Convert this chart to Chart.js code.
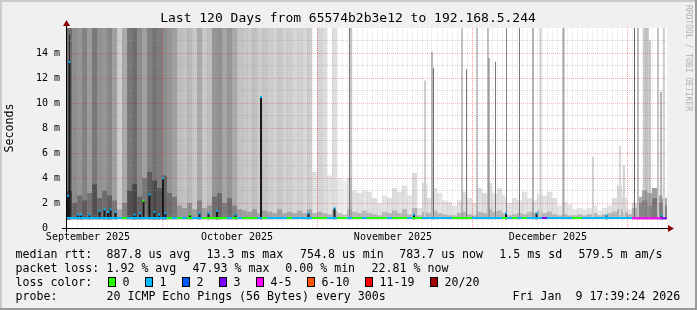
<!DOCTYPE html>
<html>
<head>
<meta charset="utf-8">
<script src="https://cdn.jsdelivr.net/npm/chart.js@4/dist/chart.umd.min.js"></script>
<style>
  html, body { margin: 0; padding: 0; background: #f0f0f0; }
  canvas { display: block; }
</style>
</head>
<body>
<canvas id="smoke" width="697" height="310"></canvas>
<script>
// 120 days, one bin per day, values in ms
const monthLabels = ['September 2025', 'October 2025', 'November 2025', 'December 2025'];
const monthTickDays = [4.2, 34, 65.2, 96.2];
const majorGridDays = [19, 50, 81, 112];
const yTickValues = [0, 2, 4, 6, 8, 10, 12, 14];
const yTickLabels = ['0  ', '2 m', '4 m', '6 m', '8 m', '10 m', '12 m', '14 m'];

// outer smoke: grey level and top (ms)
const smokeShade = [
  110,140,150,130,155,120,145,150,135,160,
  205,170,120,110,140,160,130,115,125,140,
  150,160,190,195,185,200,170,200,190,150,
  145,165,150,170,195,198,202,192,205,198,
  205,210,200,210,205,215,210,215,205,225,
  212,220,225,222,235,238,225,226,224,228,
  225,222,226,228,224,222,226,224,228,220,
  226,222,224,226,228,226,224,228,226,222,
  226,228,224,220,222,226,224,228,226,224,
  226,224,228,226,224,226,222,224,228,226,
  228,230,228,230,228,226,230,228,226,224,
  218,222,228,215,175,165,170,160,175,170
];
const smokeTop = [
  16.5,16.5,16.5,16.5,16.5,16.5,16.5,16.5,16.5,16.5,
  16.5,16.5,16.5,16.5,16.5,16.5,16.5,16.5,16.5,16.5,
  16.5,16.5,16.5,16.5,16.5,16.5,16.5,16.5,16.5,16.5,
  16.5,16.5,16.5,16.5,16.5,16.5,16.5,16.5,16.5,16.5,
  16.5,16.5,16.5,16.5,16.5,16.5,16.5,16.5,16.5,4.5,
  16.5,16.5,4.2,16.5,4.0,3.8,4.0,3.0,2.8,3.0,
  2.9,2.4,2.0,2.6,2.4,3.2,2.9,3.4,2.6,4.4,
  1.6,3.6,2.4,3.2,2.8,2.2,2.1,1.8,2.2,2.9,
  2.4,2.0,3.2,2.8,3.6,2.8,3.2,2.6,2.0,2.4,
  2.2,2.9,2.4,2.2,2.7,2.6,2.9,2.4,1.8,2.1,
  1.9,1.5,1.6,1.5,1.6,1.8,1.4,1.6,1.8,2.4,
  3.4,2.4,1.5,2.0,2.5,3.0,2.8,3.2,2.6,2.4
];
// darker core smoke near the median
const coreTop = [
  3.0,2.0,2.6,2.2,2.8,3.5,2.4,3.0,2.6,2.2,
  1.5,2.0,3.0,3.5,2.5,4.0,4.5,3.8,3.2,4.2,
  2.8,2.5,1.8,1.6,2.0,1.5,2.2,1.6,1.8,2.5,
  2.8,2.0,2.4,1.8,1.5,1.4,1.3,1.5,1.2,1.4,
  1.3,1.2,1.5,1.2,1.3,1.2,1.4,1.2,1.5,1.2,
  1.3,1.2,1.1,1.4,1.2,1.1,1.5,1.3,1.2,1.4,
  1.2,1.1,1.0,1.3,1.2,1.4,1.2,1.5,1.1,1.6,
  1.0,1.3,1.2,1.4,1.2,1.1,1.0,1.0,1.2,1.3,
  1.1,1.0,1.3,1.2,1.5,1.3,1.4,1.2,1.0,1.1,
  1.2,1.1,1.3,1.2,1.4,1.2,1.3,1.1,1.0,1.1,
  1.0,1.0,1.1,1.0,1.1,1.2,1.0,1.1,1.2,1.3,
  1.5,1.3,1.1,1.6,2.0,2.2,1.8,2.4,2.0,1.8
];
// median rtt (ms) and loss bucket per day (0=0,1=1,2=2,3=3,4=4-5)
const medianMs = [
  0.80,0.80,0.80,0.80,0.80,0.80,0.80,0.80,0.80,0.80,
  0.80,0.80,0.80,0.80,0.80,0.80,0.80,0.80,0.80,0.80,
  0.80,0.80,0.80,0.80,0.80,0.80,0.80,0.80,0.80,0.80,
  0.80,0.80,0.80,0.80,0.80,0.80,0.80,0.80,0.80,0.80,
  0.80,0.80,0.80,0.80,0.80,0.80,0.80,0.80,0.80,0.80,
  0.80,0.80,0.80,0.80,0.80,0.80,0.80,0.80,0.80,0.80,
  0.80,0.80,0.80,0.80,0.80,0.80,0.80,0.80,0.80,0.80,
  0.80,0.80,0.80,0.80,0.80,0.80,0.80,0.80,0.80,0.80,
  0.80,0.80,0.80,0.80,0.80,0.80,0.80,0.80,0.80,0.80,
  0.80,0.80,0.80,0.80,0.80,0.80,0.80,0.80,0.80,0.80,
  0.80,0.80,0.80,0.80,0.80,0.80,0.80,0.80,0.80,0.80,
  0.80,0.80,0.80,0.78,0.78,0.78,0.78,0.78,0.78,0.78
];
const lossBin = [
  1,1,1,1,1,1,1,1,1,1,
  1,0,1,1,1,1,1,1,1,1,
  0,1,0,1,0,1,1,0,0,0,
  0,0,1,0,1,0,0,0,1,0,
  1,1,1,1,0,1,1,1,1,0,
  0,0,1,1,0,0,1,0,0,1,
  0,0,0,0,1,0,0,0,1,0,
  0,1,1,1,1,1,1,0,0,0,
  0,1,1,1,1,1,1,0,1,0,
  1,0,1,1,1,3,1,1,1,1,
  1,0,0,1,1,1,1,1,1,1,
  1,1,1,4,4,4,4,4,4,3
];
// thin dark spikes (day, top ms, grey)
const spikeDay   = [0.5, 56.5, 56.8, 73.3, 79.0, 79.9, 82.0, 84.4, 85.7, 87.9, 90.5, 93.2, 113.5, 115.4, 115.8, 116.2, 116.6, 118.8];
const spikeTop   = [15.5, 16.5, 16.5, 12.8, 16.5, 12.7, 16.5, 13.6, 13.3, 16.5, 16.5, 16.5, 16.5, 16.5, 16.5, 16.5, 15.0, 10.9];
const spikeShade = [40, 120, 140, 110, 140, 120, 140, 120, 120, 130, 120, 110, 100, 150, 130, 150, 140, 110];
// wider light spikes
const bandDay   = [71.6, 73.0, 84.2, 94.7, 99.3, 105.2, 110.6, 111.4, 114.2, 118.2, 119.4];
const bandTop   = [11.8, 14.1, 16.5, 16.5, 16.5, 5.7, 6.6, 5.0, 16.5, 16.5, 16.5];
const bandShade = [205, 185, 195, 205, 165, 215, 215, 212, 190, 200, 210];
// high medians (day, ms, loss bucket)
const peakDay  = [0.2, 0.5, 2.2, 2.8, 4.5, 6.5, 7.5, 8.2, 8.7, 9.7, 13.5, 14.6, 15.3, 16.5, 17.5, 18.4, 19.2, 19.7, 24.6, 26.5, 28.3, 30.0, 33.7, 38.8, 48.3, 53.5, 69.4, 87.8, 93.9, 107.9, 118.9];
const peakMs   = [2.6, 13.3, 1.1, 1.1, 1.1, 1.4, 1.5, 1.3, 1.5, 1.3, 1.1, 1.2, 2.2, 2.7, 1.3, 1.1, 4.0, 1.2, 1.1, 1.2, 1.2, 1.4, 1.1, 10.5, 1.2, 1.6, 1.1, 1.2, 1.2, 1.0, 1.0];
const peakLoss = [1,1,1,1,1,1,1,1,1,1,1,1,0,1,1,1,1,1,0,1,1,1,1,1,1,1,1,1,1,1,1];

const lossColors = ['#26ff00', '#00b8ff', '#0059ff', '#7e00ff', '#ff00ff', '#ff5500', '#ff0000', '#a10000'];
const lossLabels = ['0', '1', '2', '3', '4-5', '6-10', '11-19', '20/20'];

const FONT = '"DejaVu Sans Mono", monospace';
const grey = g => `rgb(${g},${g},${g})`;
const FLOOR = 0.7;

function barSet(data, colors, thickness, order, extra) {
  return Object.assign({
    type: 'bar', data, backgroundColor: colors, barThickness: thickness,
    grouped: false, inflateAmount: 0, borderWidth: 0, order
  }, extra || {});
}

const datasets = [
  barSet(smokeTop.map((t, i) => ({ x: i + 0.5, y: [FLOOR, t] })), smokeShade.map(grey), 5, 7),
  barSet(coreTop.map((t, i) => ({ x: i + 0.5, y: [FLOOR, t] })), smokeShade.map(g => grey(Math.max(g - 40, 50))), 5, 6),
  barSet(bandDay.map((d, i) => ({ x: d, y: [FLOOR, bandTop[i]] })), bandShade.map(grey), 2, 5),
  barSet(spikeDay.map((d, i) => ({ x: d, y: [FLOOR, spikeTop[i]] })), spikeShade.map(grey), 1, 4),
  barSet(peakDay.map((d, i) => ({ x: d, y: [FLOOR, peakMs[i]] })), '#1a1a1a', 2, 3, { gridBefore: true }),
  barSet(medianMs.map((m, i) => ({ x: i + 0.5, y: [m - 0.08, m + 0.08] })), lossBin.map(b => lossColors[b]), 5, 2),
  barSet(peakDay.map((d, i) => ({ x: d, y: [peakMs[i] - 0.1, peakMs[i] + 0.06] })), peakLoss.map(b => lossColors[b]), 2, 1)
];

function drawGrid(chart) {
  const { ctx, chartArea: a, scales: { x, y } } = chart;
  ctx.save();
  ctx.lineWidth = 1;
  ctx.setLineDash([1, 1]);
  const line = (x1, y1, x2, y2, c) => {
    ctx.strokeStyle = c; ctx.beginPath(); ctx.moveTo(x1, y1); ctx.lineTo(x2, y2); ctx.stroke();
  };
  for (let v = 1; v < 16; v++) {
    const py = Math.floor(y.getPixelForValue(v)) + 0.5;
    line(a.left, py, a.right, py, v % 2 ? 'rgba(150,150,150,0.4)' : 'rgba(255,0,0,0.3)');
  }
  for (let d = 1; d < 120; d++) {
    if (majorGridDays.includes(d)) continue;
    const px = Math.floor(x.getPixelForValue(d)) + 0.5;
    line(px, a.top, px, a.bottom, 'rgba(150,150,150,0.28)');
  }
  majorGridDays.forEach(d => {
    const px = Math.floor(x.getPixelForValue(d)) + 0.5;
    line(px, a.top, px, a.bottom, 'rgba(255,0,0,0.4)');
  });
  ctx.restore();
}

const rrdLook = {
  id: 'rrdLook',
  beforeDraw(chart) {
    const { ctx, chartArea: a } = chart;
    ctx.save();
    ctx.fillStyle = '#f0f0f0'; ctx.fillRect(0, 0, 697, 310);
    ctx.fillStyle = '#cbcbcb'; ctx.fillRect(0, 0, 697, 2); ctx.fillRect(0, 0, 2, 310);
    ctx.fillStyle = '#999999'; ctx.fillRect(0, 308, 697, 2); ctx.fillRect(695, 0, 2, 310);
    ctx.fillStyle = '#ffffff'; ctx.fillRect(a.left, a.top, a.right - a.left, a.bottom - a.top);
    ctx.restore();
  },
  beforeDatasetDraw(chart, args) {
    if (chart.data.datasets[args.index].gridBefore) drawGrid(chart);
  },
  afterDraw(chart) {
    const { ctx, chartArea: a } = chart;
    ctx.save();
    // axes
    ctx.strokeStyle = '#000'; ctx.lineWidth = 1;
    ctx.beginPath();
    ctx.moveTo(62, a.bottom + 0.5); ctx.lineTo(670, a.bottom + 0.5);
    ctx.moveTo(a.left - 0.5, a.bottom + 4); ctx.lineTo(a.left - 0.5, 25);
    ctx.stroke();
    ctx.fillStyle = '#8b0000';
    ctx.beginPath(); ctx.moveTo(668, a.bottom - 3); ctx.lineTo(674, a.bottom + 0.5); ctx.lineTo(668, a.bottom + 4); ctx.fill();
    ctx.beginPath(); ctx.moveTo(a.left - 4, 26); ctx.lineTo(a.left - 0.5, 20); ctx.lineTo(a.left + 3, 26); ctx.fill();

    // title
    ctx.fillStyle = '#000';
    ctx.textBaseline = 'middle';
    ctx.font = '13px ' + FONT;
    ctx.textAlign = 'center';
    ctx.fillText('Last 120 Days from 65574b2b3e12 to 192.168.5.244', 348, 19);

    // y title
    ctx.font = '11.6px ' + FONT;
    ctx.save();
    ctx.translate(10, 128); ctx.rotate(-Math.PI / 2);
    ctx.fillText('Seconds', 0, 0);
    ctx.restore();

    // watermark
    ctx.save();
    ctx.fillStyle = '#b0b0b0';
    ctx.font = '8px ' + FONT;
    ctx.translate(688.5, 58); ctx.rotate(Math.PI / 2);
    ctx.fillText('RRDTOOL / TOBI OETIKER', 0, 0);
    ctx.restore();

    // legend
    ctx.textAlign = 'left';
    ctx.fillStyle = '#000';
    ctx.font = '11.6px ' + FONT;
    const rows = [
      [255, [[15.5, 'median rtt:'], [106.5, '887.8 us avg'], [206.5, '13.3 ms max'], [300, '754.8 us min'], [399.3, '783.7 us now'], [499.3, '1.5 ms sd'], [578.6, '579.5 m am/s']]],
      [269, [[15.5, 'packet loss:'], [106.5, '1.92 % avg'], [192.6, '47.93 % max'], [285.3, '0.00 % min'], [371.6, '22.81 % now']]],
      [283, [[15.5, 'loss color:']]],
      [297, [[15.5, 'probe:'], [106.5, '20 ICMP Echo Pings (56 Bytes) every 300s'], [512.6, 'Fri Jan  9 17:39:24 2026']]]
    ];
    rows.forEach(([ty, parts]) => parts.forEach(([tx, s]) => ctx.fillText(s, tx, ty)));
    const boxX = [108.5, 145.5, 182.5, 219.5, 256.5, 307.5, 365.5, 430.5];
    boxX.forEach((bx, i) => {
      ctx.fillStyle = lossColors[i];
      ctx.fillRect(bx, 277.5, 7, 9);
      ctx.strokeStyle = '#000';
      ctx.setLineDash([]);
      ctx.strokeRect(bx, 277.5, 7, 9);
      ctx.fillStyle = '#000';
      ctx.fillText(lossLabels[i], bx + 14, 283);
    });
    ctx.restore();
  }
};

new Chart(document.getElementById('smoke'), {
  data: { datasets },
  options: {
    responsive: false,
    animation: false,
    devicePixelRatio: 1,
    layout: { padding: { left: 0, right: 30, top: 28, bottom: 0 } },
    plugins: { legend: { display: false }, tooltip: { enabled: false } },
    scales: {
      x: {
        type: 'linear', min: 0, max: 120, offset: false,
        grid: { display: false, drawTicks: false }, border: { display: false },
        afterBuildTicks: s => { s.ticks = monthTickDays.map(v => ({ value: v })); },
        afterFit: s => { s.height = 82; },
        ticks: {
          autoSkip: false, maxRotation: 0, padding: 3, color: '#000',
          font: { family: 'DejaVu Sans Mono', size: 10 },
          callback: (v, i) => monthLabels[i]
        }
      },
      y: {
        type: 'linear', min: 0, max: 16,
        grid: { display: false, drawTicks: false }, border: { display: false },
        afterBuildTicks: s => { s.ticks = yTickValues.map(v => ({ value: v })); },
        afterFit: s => { s.width = 67; },
        ticks: {
          padding: 7, color: '#000',
          font: { family: 'DejaVu Sans Mono', size: 10 },
          callback: (v, i) => yTickLabels[i]
        }
      }
    }
  },
  plugins: [rrdLook]
});
</script>
</body>
</html>
